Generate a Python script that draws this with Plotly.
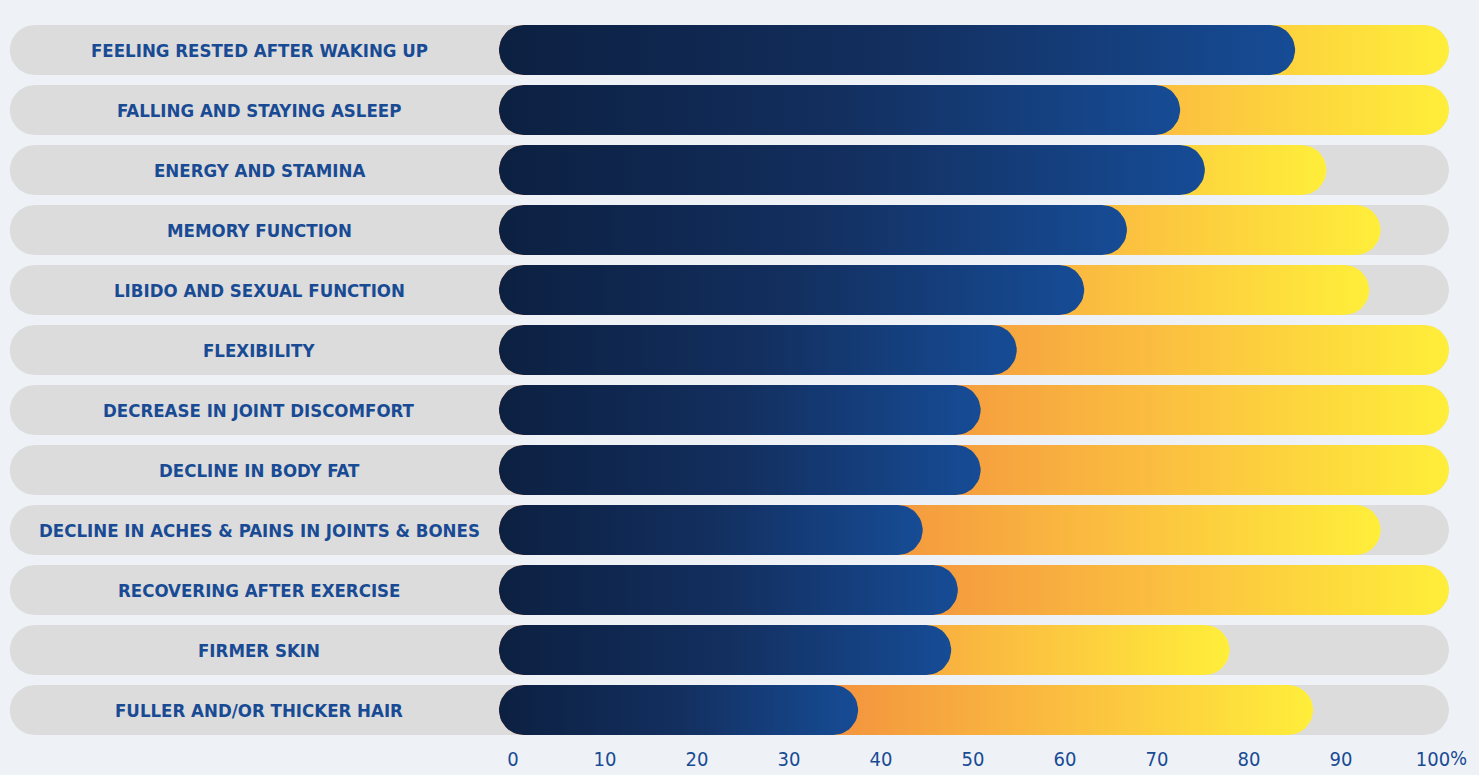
import numpy as np
import plotly.graph_objects as go

# ---------------- data ----------------
categories = [
    "FEELING RESTED AFTER WAKING UP",
    "FALLING AND STAYING ASLEEP",
    "ENERGY AND STAMINA",
    "MEMORY FUNCTION",
    "LIBIDO AND SEXUAL FUNCTION",
    "FLEXIBILITY",
    "DECREASE IN JOINT DISCOMFORT",
    "DECLINE IN BODY FAT",
    "DECLINE IN ACHES & PAINS IN JOINTS & BONES",
    "RECOVERING AFTER EXERCISE",
    "FIRMER SKIN",
    "FULLER AND/OR THICKER HAIR",
]
blue_values = [83.8, 71.7, 74.3, 66.1, 61.6, 54.5, 50.7, 50.7, 44.6, 48.3, 47.6, 37.8]
yellow_values = [100, 100, 87.1, 92.8, 91.6, 100, 100, 100, 92.8, 100, 76.9, 85.7]
track_start = -51.5
track_end = 100
tick_values = [0, 10, 20, 30, 40, 50, 60, 70, 80, 90, 100]
tick_labels = ["0", "10", "20", "30", "40", "50", "60", "70", "80", "90", "100"]

# ---------------- layout constants ----------------
W, H = 1479, 775
MB = 33
X_RANGE = [-52.526, 103.158]
Y_RANGE = [11.533, -0.8333]
X2_RANGE = [-55.76, 105.0]
PX_PER_X = W / (X_RANGE[1] - X_RANGE[0])
PX_PER_Y = (H - MB) / (Y_RANGE[0] - Y_RANGE[1])
BAR_PX = 50
RX = (BAR_PX / 2) / PX_PER_X
RY = (BAR_PX / 2) / PX_PER_Y

BG = "#eef2f7"
TRACK = "#dcdcdc"
TEXT = "#194b94"
FONT = "DejaVu Sans Condensed, DejaVu Sans, sans-serif"
BLUE_SCALE = [[0, "#0c2041"], [0.5, "#132f5f"], [1, "#164c96"]]
WARM_SCALE = [[0, "#ef6a3c"], [0.4, "#f3923e"], [0.7, "#fbbf40"], [1, "#ffee3a"]]


def pill(x0, x1, yc, n=24):
    t = np.linspace(-np.pi / 2, np.pi / 2, n)
    rx = min(RX, (x1 - x0) / 2)
    right_x = (x1 - rx) + rx * np.cos(t)
    right_y = yc + RY * np.sin(t)
    t2 = np.linspace(np.pi / 2, 3 * np.pi / 2, n)
    left_x = (x0 + rx) + rx * np.cos(t2)
    left_y = yc + RY * np.sin(t2)
    xs = np.concatenate([right_x, left_x, right_x[:1]])
    ys = np.concatenate([right_y, left_y, right_y[:1]])
    return xs, ys


fig = go.Figure()

for i, cat in enumerate(categories):
    xs, ys = pill(track_start, track_end, i)
    fig.add_trace(go.Scatter(x=xs, y=ys, fill="toself", fillcolor=TRACK, mode="lines",
                             line=dict(width=0), hoverinfo="skip", showlegend=False))
for i, cat in enumerate(categories):
    xs, ys = pill(0, yellow_values[i], i)
    fig.add_trace(go.Scatter(x=xs, y=ys, fill="toself", mode="lines",
                             fillgradient=dict(type="horizontal", colorscale=WARM_SCALE),
                             line=dict(width=0), hoverinfo="skip", showlegend=False))
for i, cat in enumerate(categories):
    xs, ys = pill(0, blue_values[i], i)
    fig.add_trace(go.Scatter(x=xs, y=ys, fill="toself", mode="lines",
                             fillgradient=dict(type="horizontal", colorscale=BLUE_SCALE),
                             line=dict(width=0), hoverinfo="skip", showlegend=False))

# invisible trace carrying the tick axis
fig.add_trace(go.Scatter(x=tick_values, y=[0] * len(tick_values), xaxis="x2", mode="markers",
                         marker=dict(opacity=0), hoverinfo="skip", showlegend=False))

label_x = (track_start + 0) / 2 + 0.5
for i, cat in enumerate(categories):
    fig.add_annotation(x=label_x, y=i, text=cat, showarrow=False, xanchor="center",
                       yanchor="middle",
                       font=dict(family=FONT, size=18.5, color=TEXT, weight="bold"))

fig.add_annotation(x=tick_values[-1], y=0, xref="x2", yref="paper", text="%", showarrow=False,
                   xanchor="left", yanchor="top", xshift=15, yshift=-2,
                   font=dict(family=FONT, size=20, color=TEXT))

fig.update_layout(
    width=W, height=H, autosize=False,
    margin=dict(l=0, r=0, t=0, b=MB),
    paper_bgcolor=BG, plot_bgcolor=BG,
    xaxis=dict(range=X_RANGE, visible=False, fixedrange=True),
    xaxis2=dict(range=X2_RANGE, overlaying="x", anchor="y", side="bottom",
                tickvals=tick_values, ticktext=tick_labels, showgrid=False, zeroline=False,
                showline=False, ticks="", ticklabelstandoff=3,
                tickfont=dict(family=FONT, size=20, color=TEXT),
                fixedrange=True),
    yaxis=dict(range=Y_RANGE, visible=False, fixedrange=True),
    showlegend=False,
)

fig.write_html("out.html", config={"displayModeBar": False},
               post_script="document.body.style.margin='0px';document.body.style.overflow='hidden';")
